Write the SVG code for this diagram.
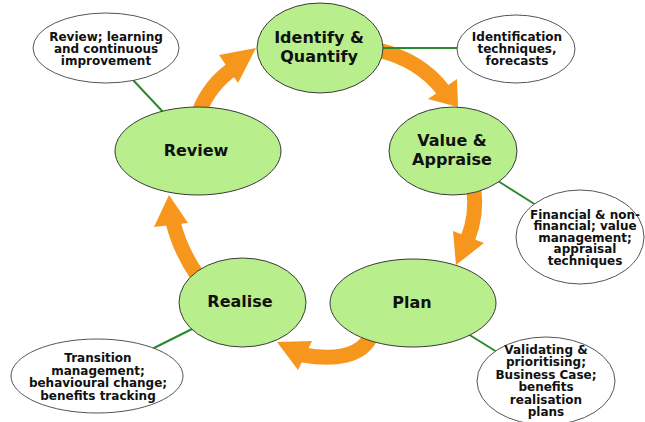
<svg xmlns="http://www.w3.org/2000/svg" width="645" height="422" viewBox="0 0 645 422">
<style>
.bg{fill:#ffffff}
.stage{fill:#b8ef8c;stroke:#3a3a3a;stroke-width:1}
.note{fill:#ffffff;stroke:#555555;stroke-width:1}
.body{fill:none;stroke:#f7961c;stroke-width:15}
.head{fill:#f7961c}
.link{stroke:#2a8a2a;stroke-width:2;fill:none}
.lbl{font-family:"DejaVu Sans","Verdana",sans-serif;font-weight:bold;font-size:16px;fill:#111;text-anchor:middle}
.ntxt{font-family:"DejaVu Sans","Verdana",sans-serif;font-weight:bold;font-size:12px;fill:#111;text-anchor:middle}
</style>
<rect class="bg" x="0" y="0" width="645" height="422"/>
<g id="connectors">
  <path class="body" d="M 199 112 Q 210 84 234 68"/>
  <polygon class="head" points="256,48 219,55 238,83"/>
  <path class="body" d="M 378 50 Q 420 60 443 90"/>
  <polygon class="head" points="458,107 428,99 457,79"/>
  <path class="body" d="M 474 190 Q 477 215 468 238"/>
  <polygon class="head" points="456,265 453,231 484,243"/>
  <path class="body" d="M 372 334 C 362 358 332 360 303 355"/>
  <polygon class="head" points="277,342 312,341 298,370"/>
  <path class="body" d="M 197 275 Q 180 250 173 222"/>
  <polygon class="head" points="169,195 154,227 188,223"/>
  <line class="link" x1="133" y1="80" x2="164" y2="113"/>
  <line class="link" x1="380" y1="48" x2="458" y2="48"/>
  <line class="link" x1="498" y1="181" x2="536" y2="205"/>
  <line class="link" x1="468" y1="334" x2="497" y2="352"/>
  <line class="link" x1="194" y1="328" x2="152" y2="349"/>
</g>
<g id="identify">
  <ellipse class="stage" cx="320" cy="48" rx="63" ry="45"/>
  <text class="lbl" x="319" y="43">Identify &amp;</text>
  <text class="lbl" x="319" y="62">Quantify</text>
</g>
<g id="value">
  <ellipse class="stage" cx="453" cy="151" rx="64" ry="44"/>
  <text class="lbl" x="452" y="146">Value &amp;</text>
  <text class="lbl" x="452" y="165">Appraise</text>
</g>
<g id="plan">
  <ellipse class="stage" cx="413" cy="303" rx="83" ry="44"/>
  <text class="lbl" x="412" y="308">Plan</text>
</g>
<g id="realise">
  <ellipse class="stage" cx="242.5" cy="302.5" rx="63.5" ry="44.5"/>
  <text class="lbl" x="240" y="307">Realise</text>
</g>
<g id="review">
  <ellipse class="stage" cx="198" cy="151" rx="83" ry="44"/>
  <text class="lbl" x="196" y="156">Review</text>
</g>
<g id="note-review">
  <ellipse class="note" cx="106" cy="48" rx="73" ry="35"/>
  <text class="ntxt" x="106" y="41">Review; learning</text>
  <text class="ntxt" x="106" y="53">and continuous</text>
  <text class="ntxt" x="106" y="65">improvement</text>
</g>
<g id="note-identify">
  <ellipse class="note" cx="516" cy="49" rx="59" ry="34"/>
  <text class="ntxt" x="517" y="40.5">Identification</text>
  <text class="ntxt" x="517" y="52.5">techniques,</text>
  <text class="ntxt" x="517" y="64.5">forecasts</text>
</g>
<g id="note-value">
  <ellipse class="note" cx="580" cy="237" rx="64" ry="47"/>
  <text class="ntxt" x="585" y="218.5">Financial &amp; non-</text>
  <text class="ntxt" x="585" y="230">financial; value</text>
  <text class="ntxt" x="585" y="241.5">management;</text>
  <text class="ntxt" x="585" y="253">appraisal</text>
  <text class="ntxt" x="585" y="264.5">techniques</text>
</g>
<g id="note-plan">
  <ellipse class="note" cx="546" cy="381" rx="69" ry="44"/>
  <text class="ntxt" x="546" y="354">Validating &amp;</text>
  <text class="ntxt" x="546" y="366">prioritising;</text>
  <text class="ntxt" x="546" y="378.5">Business Case;</text>
  <text class="ntxt" x="546" y="391">benefits</text>
  <text class="ntxt" x="546" y="403.5">realisation</text>
  <text class="ntxt" x="546" y="416">plans</text>
</g>
<g id="note-realise">
  <ellipse class="note" cx="97" cy="376" rx="86" ry="37"/>
  <text class="ntxt" x="98" y="362">Transition</text>
  <text class="ntxt" x="98" y="374.5">management;</text>
  <text class="ntxt" x="98" y="387">behavioural change;</text>
  <text class="ntxt" x="98" y="399.5">benefits tracking</text>
</g>
</svg>
